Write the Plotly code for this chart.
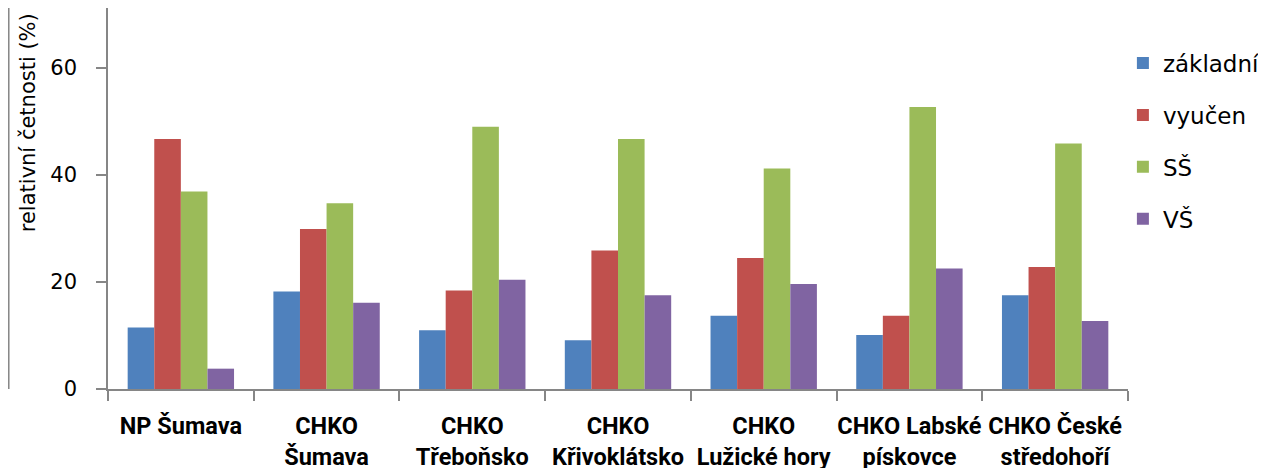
import plotly.graph_objects as go

categories = ["NP Šumava", "CHKO<br>Šumava", "CHKO<br>Třeboňsko", "CHKO<br>Křivoklátsko",
              "CHKO<br>Lužické hory", "CHKO Labské<br>pískovce", "CHKO České<br>středohoří"]
series_names = ["základní", "vyučen", "SŠ", "VŠ"]
zakladni = [11.5, 18.2, 11.0, 9.1, 13.7, 10.1, 17.5]
vyucen = [46.7, 29.9, 18.4, 25.9, 24.5, 13.7, 22.8]
ss = [36.9, 34.7, 49.0, 46.7, 41.2, 52.7, 45.9]
vs = [3.8, 16.1, 20.4, 17.5, 19.6, 22.5, 12.7]
colors = ["#4F81BD", "#C0504D", "#9BBB59", "#8064A2"]
y_title = "relativní četnosti (%)"

REG = "DejaVu Sans"
BOLD = "Roboto"
fig = go.Figure()
for i, (name, vals) in enumerate(zip(series_names, [zakladni, vyucen, ss, vs])):
    fig.add_trace(go.Bar(x=categories, y=vals, name=name, marker_color=colors[i],
                         marker_line_width=0, legendgroup=name))

fig.update_layout(
    width=1266, height=468,
    margin=dict(l=100, r=146, t=0, b=86.5, pad=0),
    paper_bgcolor="white", plot_bgcolor="white",
    barmode="group", bargap=0.27, bargroupgap=0,
    font=dict(family=REG, color="#000000"),
    showlegend=True,
    legend=dict(x=0.995, y=0.912, xanchor="left", yanchor="top",
                font=dict(size=23, family=REG, color="#000000"),
                tracegroupgap=19, itemwidth=30, bgcolor="rgba(0,0,0,0)"),
    xaxis=dict(type="category", showline=True, linecolor="#868686", linewidth=1.5,
               ticks="outside", ticklen=10, tickcolor="#868686", tickwidth=1.5,
               tickson="boundaries", showgrid=False, automargin=False, tickangle=0,
               ticklabelstandoff=15,
               tickfont=dict(size=23.5, family=BOLD, color="#000000", weight="bold")),
    yaxis=dict(range=[0, 71.2], dtick=20, showline=True, linecolor="#868686", linewidth=1.5,
               ticks="outside", ticklen=10, tickcolor="#868686", tickwidth=1.5,
               showgrid=False, zeroline=False, automargin=False, ticklabelstandoff=15,
               tickfont=dict(size=21, family=REG, color="#000000")),
)
fig.add_annotation(text=y_title, textangle=-90, xref="paper", yref="paper",
                   x=-0.0785, y=0.70, xanchor="center", yanchor="middle", showarrow=False,
                   font=dict(size=21, family=REG, color="#000000"))
fig.add_shape(type="line", xref="paper", yref="paper", x0=-0.0975, x1=-0.0975, y0=0, y1=1.3,
              line=dict(color="#888888", width=2))
fig.write_html("out.html")
